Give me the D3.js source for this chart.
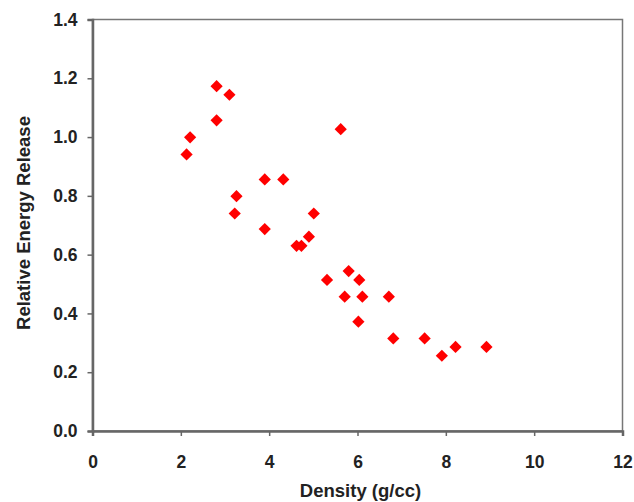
<!DOCTYPE html>
<html>
<head>
<meta charset="utf-8">
<script src="https://cdn.jsdelivr.net/npm/d3@7"></script>
<style>
  body { margin: 0; background: #fff; }
  text { font-family: "Liberation Sans", Arial, sans-serif; font-weight: bold; fill: #222; }
</style>
</head>
<body>
<div id="chart"></div>
<script>
// density (g/cc) vs relative energy release
var density = [2.13, 2.21, 2.81, 2.81, 3.10, 5.62, 3.90, 4.32, 3.26, 3.22,
               5.01, 3.90, 4.90, 4.62, 4.73, 5.31, 5.80, 6.04, 5.71, 6.11,
               6.71, 6.02, 6.81, 7.52, 7.91, 8.22, 8.92];
var energy  = [0.941, 0.999, 1.173, 1.057, 1.144, 1.027, 0.856, 0.856, 0.799, 0.740,
               0.740, 0.687, 0.661, 0.630, 0.630, 0.514, 0.544, 0.514, 0.457, 0.457,
               0.457, 0.372, 0.315, 0.315, 0.256, 0.286, 0.286];
var xTicks = [0, 2, 4, 6, 8, 10, 12];
var yTicks = [0, 0.2, 0.4, 0.6, 0.8, 1.0, 1.2, 1.4];

var W = 634, H = 502;
var margin = {top: 19.5, right: 11.5, bottom: 71, left: 92.5},
    width = W - margin.left - margin.right,
    height = H - margin.top - margin.bottom;

var svg = d3.select("#chart").append("svg")
    .attr("width", W)
    .attr("height", H);

var g = svg.append("g")
    .attr("transform", "translate(" + margin.left + "," + margin.top + ")");

var x = d3.scaleLinear().domain([0, 12]).range([0, width]);
var y = d3.scaleLinear().domain([0, 1.4]).range([height, 0]);

// plot frame
g.append("rect")
    .attr("x", 0).attr("y", 0)
    .attr("width", width).attr("height", height)
    .attr("fill", "none")
    .attr("stroke", "#777")
    .attr("stroke-width", 1.5);

var xAxis = g.append("g")
    .attr("transform", "translate(0," + height + ")")
    .call(d3.axisBottom(x).tickValues(xTicks).tickSize(5).tickPadding(20)
      .tickFormat(d3.format("d")));

var yAxis = g.append("g")
    .call(d3.axisLeft(y).tickValues(yTicks).tickSize(5).tickPadding(10)
      .tickFormat(d3.format(".1f")));

[xAxis, yAxis].forEach(function(a) {
  a.select(".domain").attr("stroke", "#666").attr("stroke-width", 2.5);
  a.selectAll(".tick line").attr("stroke", "#666").attr("stroke-width", 1.5);
  a.selectAll(".tick text")
      .attr("fill", "#222")
      .style("font-family", "'Liberation Sans', Arial, sans-serif")
      .style("font-weight", "bold")
      .style("font-size", "17.5px");
});

// axis titles
svg.append("text")
    .attr("x", margin.left + x(6) + 3)
    .attr("y", 497)
    .attr("text-anchor", "middle")
    .style("font-size", "18.5px")
    .text("Density (g/cc)");

svg.append("text")
    .attr("transform", "translate(30,223) rotate(-90)")
    .attr("text-anchor", "middle")
    .style("font-size", "18.5px")
    .text("Relative Energy Release");

// points
var pts = density.map(function(d, i) { return {x: d, y: energy[i]}; });
g.append("g").selectAll("path")
    .data(pts)
    .enter().append("path")
      .attr("d", d3.symbol().type(d3.symbolDiamond2).size(95))
      .attr("transform", function(d) { return "translate(" + x(d.x) + "," + y(d.y) + ")"; })
      .attr("fill", "#ff0000");
</script>
</body>
</html>
